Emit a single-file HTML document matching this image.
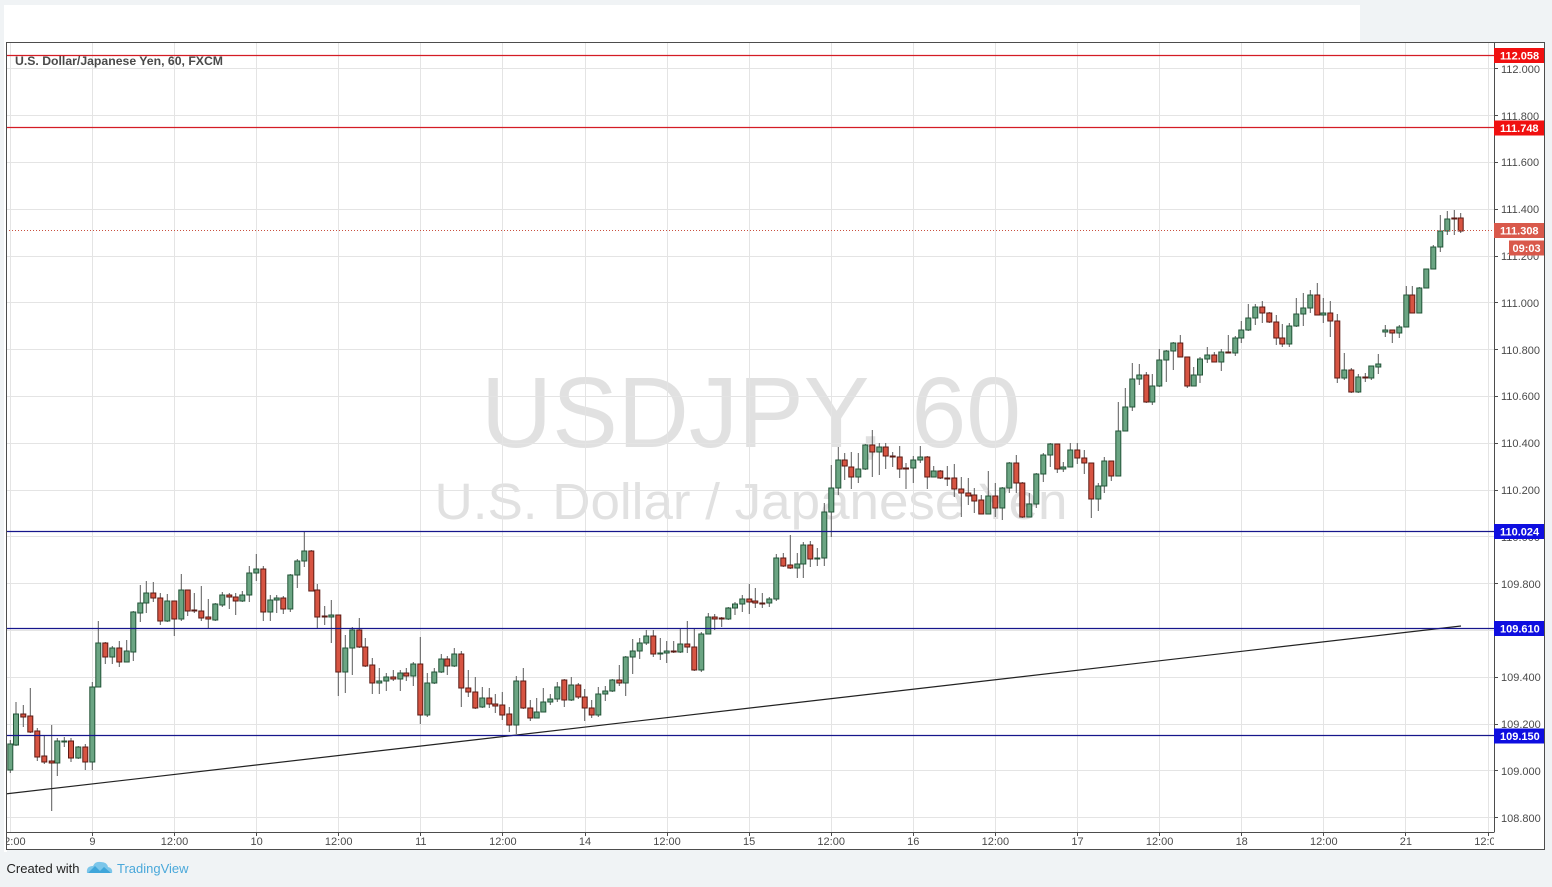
<!DOCTYPE html>
<html><head><meta charset="utf-8"><style>
html,body{margin:0;padding:0;background:#f0f3f5;}
svg{display:block;font-family:"Liberation Sans",Arial,sans-serif;}
</style></head><body>
<svg width="1552" height="887" viewBox="0 0 1552 887" xmlns="http://www.w3.org/2000/svg">
<defs>
<clipPath id="plot"><rect x="7" y="43" width="1487" height="789"/></clipPath>
<clipPath id="taxis"><rect x="7" y="833" width="1487" height="17"/></clipPath>
</defs>
<rect x="0" y="0" width="1552" height="887" fill="#f0f3f5"/>
<rect x="4" y="5" width="1356" height="37" fill="#ffffff"/>
<rect x="4" y="42" width="3" height="810" fill="#ffffff"/>
<rect x="6.5" y="42.5" width="1538" height="807" fill="#ffffff" stroke="#4d4d4d" stroke-width="1"/>

<g clip-path="url(#plot)">
<text x="751" y="447" font-size="100" fill="#e1e1e1" text-anchor="middle" textLength="540" lengthAdjust="spacingAndGlyphs">USDJPY, 60</text>
<text x="751" y="519" font-size="51" fill="#e1e1e1" text-anchor="middle" textLength="633" lengthAdjust="spacingAndGlyphs">U.S. Dollar / Japanese Yen</text>
<g stroke="#e4e4e4" stroke-width="1">
<path d="M7 68.5H1494M7 115.5H1494M7 162.5H1494M7 209.5H1494M7 256.5H1494M7 302.5H1494M7 349.5H1494M7 396.5H1494M7 443.5H1494M7 490.5H1494M7 536.5H1494M7 583.5H1494M7 630.5H1494M7 677.5H1494M7 724.5H1494M7 770.5H1494M7 817.5H1494"/>
<path d="M10.5 43V832M92.5 43V832M174.5 43V832M256.5 43V832M338.5 43V832M420.5 43V832M502.5 43V832M585.5 43V832M667.5 43V832M749.5 43V832M831.5 43V832M913.5 43V832M995.5 43V832M1077.5 43V832M1159.5 43V832M1241.5 43V832M1323.5 43V832M1405.5 43V832M1488.5 43V832"/>
</g>
<text x="15" y="65" font-size="12" font-weight="bold" fill="#4a4a4a" textLength="208" lengthAdjust="spacingAndGlyphs">U.S. Dollar/Japanese Yen, 60, FXCM</text>

<path fill="none" stroke="#5a5a5a" stroke-width="1" d="M10.3 740V773M16 702V746M23.3 705V727M30.3 688V733M37.3 728V761M44.3 736V764M51.7 725V811M57.3 738V776M64.3 737V747M71 738V762M78.3 746V759M85.3 744V770M92.3 682V770M98.3 621V687M105.3 642V664M112.3 646V664M119.3 641V667M126.7 640V662M133.3 611V661M140.3 585V622M146.3 581V613M153.3 582V602M160.3 593V625M167.3 594V622M174.3 601V636M181.3 574V621M187.7 590V616M194.3 593V613M201.3 586V621M208.3 599V629M215.3 603V621M222.3 592V607M229.3 593V609M235.7 593V615M242.3 591V602M249.3 566V602M256.3 554V581M263.3 566V621M270.3 595V621M276.7 595V613M283.3 596V614M290.3 574V612M297.3 559V588M304.3 532V567M311.3 550V591M317.3 584V628M324.7 606V625M331.3 600V643M338.3 615V696M345.3 635V693M352.3 627V675M359.3 618V648M365.3 638V667M372.3 658V694M379.3 668V694M386.3 673V691M393.3 670V681M400.3 670V691M406.3 668V681M413.3 662V686M420.3 637V724M427.3 673V717M434.3 668V684M441.3 654V673M447.3 656V675M454.3 648V667M461.3 651V707M468.3 670V697M475.3 677V709M482.3 687V708M489.3 688V708M495.3 694V713M502.3 692V720M509.3 707V732M516.3 676V734M523.3 668V709M530.3 700V721M536.7 698V718M543.3 688V712M550.3 694V705M557.3 682V702M564.3 679V707M571.3 677V701M578.3 683V699M584.7 689V721M591.7 700V718M598.3 687V717M605.3 686V701M612.3 679V692M619.3 665V686M625.7 656V696M632.7 639V674M639.7 638V659M646.3 630V645M653.3 630V657M660.3 638V660M666.7 641V663M673.7 641V653M680.3 628V653M687.3 621V653M694.3 628V671M701.3 632V672M708.3 613V634M714.7 614V630M721.7 617V627M728.3 607V620M735 602V615M742.3 595V612M749.3 584V614M755.3 588V608M762.3 593V608M769.3 597V607M776.3 554V601M783.3 553V567M790.3 535V569M797.3 553V578M803.3 542V578M810.3 541V567M817.3 548V566M824.3 503V566M831.3 465V537M838.3 447V495M844.7 453V480M851.3 452V489M858.3 453V483M865.3 444V470M872.3 430V477M879.3 443V475M885.7 443V469M892.7 452V467M899.7 446V478M906 463V489M913.3 456V483M920.3 446V463M927.3 456V489M933.7 466V477M940.3 470V479M947.3 466V486M954.3 464V497M961.3 477V517M968.3 478V505M974.3 488V513M981.3 495V514M988.3 471V514M995.3 483V517M1002.3 487V520M1009.3 462V493M1016.3 455V493M1022.3 482V518M1029.3 493V517M1036.3 473V508M1043.3 453V482M1050.3 443V467M1057.3 444V473M1063.3 462V472M1070.3 443V467M1077.3 443V464M1084.3 450V474M1091.3 463V518M1098.3 483V511M1104.3 457V493M1111.3 461V481M1118.3 402V476M1125.3 388V431M1132.3 363V411M1139.3 364V385M1146.3 372V403M1152.3 374V405M1159.3 349V387M1166.3 350V382M1173.3 342V370M1180.3 335V357M1187.3 357V388M1193.7 367V386M1200 357V383M1207.3 347V363M1214.3 352V362M1221.3 349V371M1228.3 335V353M1235.3 336V356M1241.3 321V343M1248.3 304V331M1255.3 304V325M1262.3 301V323M1269.3 312V323M1276.3 315V345M1282.3 324V347M1289.3 323V347M1296.3 298V327M1303.3 293V326M1310.3 290V313M1317.3 283V315M1323.3 298V323M1330.3 301V337M1337.3 314V383M1344.3 353V380M1351.3 368V393M1358.3 374V393M1365.3 373V382M1371.3 366V380M1378.3 354V374M1385.3 325V337M1392.3 330V343M1399.3 325V338M1406.3 286V327M1412.3 286V313M1419.3 287V313M1426.3 269V288M1433.3 245V269M1440.3 215V252M1447.3 211V235M1454.3 210V235M1460.7 213V233"/>

<path fill="#6ba583" stroke="#225437" stroke-width="1" d="M7.8 744h5v26h-5zM13.5 714h5v31h-5zM54.8 741h5v22h-5zM61.8 741h5v1h-5zM75.8 747h5v11h-5zM89.8 687h5v75h-5zM95.8 643h5v44h-5zM109.8 648h5v9h-5zM124.2 651h5v11h-5zM130.8 612h5v40h-5zM137.8 603h5v10h-5zM143.8 593h5v10h-5zM164.8 601h5v20h-5zM178.8 590h5v29h-5zM212.8 604h5v16h-5zM219.8 595h5v10h-5zM239.8 595h5v6h-5zM246.8 573h5v22h-5zM253.8 569h5v4h-5zM267.8 600h5v12h-5zM274.2 598h5v2h-5zM287.8 575h5v34h-5zM294.8 561h5v14h-5zM301.8 551h5v10h-5zM328.8 615h5v2h-5zM342.8 648h5v24h-5zM349.8 630h5v18h-5zM376.8 681h5v2h-5zM383.8 677h5v4h-5zM397.8 673h5v6h-5zM410.8 664h5v12h-5zM424.8 683h5v32h-5zM431.8 672h5v11h-5zM438.8 659h5v13h-5zM451.8 654h5v12h-5zM479.8 698h5v9h-5zM513.8 681h5v44h-5zM534.2 712h5v6h-5zM540.8 702h5v10h-5zM547.8 699h5v3h-5zM554.8 687h5v12h-5zM568.8 685h5v15h-5zM595.8 694h5v21h-5zM602.8 691h5v3h-5zM609.8 680h5v11h-5zM623.2 657h5v26h-5zM630.2 651h5v6h-5zM637.2 643h5v8h-5zM643.8 636h5v7h-5zM657.8 653h5v1h-5zM664.2 651h5v2h-5zM677.8 644h5v8h-5zM698.8 634h5v36h-5zM705.8 617h5v17h-5zM725.8 608h5v11h-5zM732.5 604h5v4h-5zM739.8 599h5v5h-5zM766.8 599h5v4h-5zM773.8 558h5v41h-5zM794.8 564h5v4h-5zM800.8 545h5v19h-5zM814.8 558h5v1h-5zM821.8 512h5v46h-5zM828.8 488h5v24h-5zM835.8 460h5v28h-5zM855.8 469h5v8h-5zM862.8 445h5v24h-5zM876.8 447h5v5h-5zM910.8 460h5v8h-5zM917.8 457h5v3h-5zM931.2 471h5v6h-5zM985.8 496h5v18h-5zM999.8 488h5v20h-5zM1006.8 463h5v25h-5zM1026.8 504h5v13h-5zM1033.8 474h5v30h-5zM1040.8 455h5v19h-5zM1047.8 444h5v11h-5zM1060.8 467h5v2h-5zM1067.8 450h5v17h-5zM1095.8 486h5v13h-5zM1101.8 461h5v25h-5zM1115.8 431h5v45h-5zM1122.8 407h5v24h-5zM1129.8 379h5v28h-5zM1136.8 375h5v4h-5zM1149.8 386h5v16h-5zM1156.8 360h5v26h-5zM1163.8 351h5v9h-5zM1170.8 343h5v8h-5zM1191.2 375h5v11h-5zM1197.5 359h5v16h-5zM1204.8 355h5v4h-5zM1218.8 352h5v10h-5zM1232.8 338h5v15h-5zM1238.8 330h5v8h-5zM1245.8 318h5v12h-5zM1252.8 307h5v11h-5zM1286.8 326h5v18h-5zM1293.8 314h5v12h-5zM1300.8 308h5v6h-5zM1307.8 295h5v13h-5zM1320.8 313h5v2h-5zM1341.8 370h5v8h-5zM1355.8 377h5v15h-5zM1368.8 366h5v12h-5zM1375.8 364h5v3h-5zM1382.8 330h5v2h-5zM1396.8 327h5v6h-5zM1403.8 295h5v32h-5zM1416.8 288h5v25h-5zM1423.8 269h5v19h-5zM1430.8 247h5v22h-5zM1437.8 231h5v16h-5zM1444.8 219h5v12h-5z"/>

<path fill="#d75442" stroke="#5b1a13" stroke-width="1" d="M20.8 714h5v3h-5zM27.8 716h5v16h-5zM34.8 731h5v26h-5zM41.8 756h5v6h-5zM49.2 761h5v2h-5zM68.5 741h5v17h-5zM82.8 747h5v15h-5zM102.8 643h5v14h-5zM116.8 648h5v14h-5zM150.8 593h5v5h-5zM157.8 598h5v23h-5zM171.8 601h5v18h-5zM185.2 590h5v21h-5zM191.8 610h5v1h-5zM198.8 611h5v7h-5zM205.8 617h5v2h-5zM226.8 595h5v2h-5zM233.2 597h5v4h-5zM260.8 569h5v43h-5zM280.8 598h5v11h-5zM308.8 551h5v40h-5zM314.8 590h5v27h-5zM322.2 616h5v1h-5zM335.8 615h5v57h-5zM356.8 630h5v17h-5zM362.8 647h5v19h-5zM369.8 665h5v18h-5zM390.8 677h5v2h-5zM403.8 673h5v3h-5zM417.8 664h5v51h-5zM444.8 659h5v7h-5zM458.8 654h5v34h-5zM465.8 688h5v4h-5zM472.8 692h5v16h-5zM486.8 698h5v6h-5zM492.8 704h5v2h-5zM499.8 705h5v10h-5zM506.8 714h5v11h-5zM520.8 681h5v27h-5zM527.8 708h5v10h-5zM561.8 680h5v20h-5zM575.8 685h5v12h-5zM582.2 697h5v11h-5zM589.2 708h5v7h-5zM616.8 680h5v3h-5zM650.8 636h5v18h-5zM671.2 651h5v1h-5zM684.8 644h5v3h-5zM691.8 647h5v23h-5zM712.2 617h5v2h-5zM719.2 618h5v1h-5zM746.8 599h5v3h-5zM752.8 601h5v2h-5zM759.8 603h5v1h-5zM780.8 558h5v8h-5zM787.8 565h5v3h-5zM807.8 545h5v14h-5zM842.2 460h5v6h-5zM848.8 467h5v10h-5zM869.8 445h5v7h-5zM883.2 447h5v9h-5zM890.2 456h5v1h-5zM897.2 457h5v12h-5zM903.5 468h5v1h-5zM924.8 457h5v20h-5zM937.8 471h5v7h-5zM944.8 478h5v1h-5zM951.8 478h5v11h-5zM958.8 489h5v4h-5zM965.8 493h5v3h-5zM971.8 495h5v6h-5zM978.8 500h5v14h-5zM992.8 496h5v12h-5zM1013.8 463h5v20h-5zM1019.8 483h5v34h-5zM1054.8 444h5v25h-5zM1074.8 450h5v8h-5zM1081.8 458h5v5h-5zM1088.8 463h5v36h-5zM1108.8 461h5v15h-5zM1143.8 375h5v27h-5zM1177.8 343h5v14h-5zM1184.8 357h5v29h-5zM1211.8 355h5v7h-5zM1225.8 352h5v1h-5zM1259.8 307h5v6h-5zM1266.8 313h5v9h-5zM1273.8 322h5v16h-5zM1279.8 338h5v6h-5zM1314.8 295h5v20h-5zM1327.8 313h5v8h-5zM1334.8 321h5v57h-5zM1348.8 370h5v22h-5zM1362.8 377h5v1h-5zM1389.8 330h5v3h-5zM1409.8 295h5v18h-5zM1451.8 218h5v1h-5zM1458.2 218h5v13h-5z"/>

<line x1="5" y1="794" x2="1461" y2="626" stroke="#222222" stroke-width="1.2"/>
<line x1="6" y1="55.5" x2="1494" y2="55.5" stroke="#d41c24" stroke-width="1.2"/>
<line x1="6" y1="127.5" x2="1494" y2="127.5" stroke="#d41c24" stroke-width="1.2"/>
<line x1="6" y1="230.5" x2="1494" y2="230.5" stroke="#c9503f" stroke-width="1" stroke-dasharray="1,2"/>
<line x1="6" y1="531.5" x2="1494" y2="531.5" stroke="#16168c" stroke-width="1.2"/>
<line x1="6" y1="628.5" x2="1494" y2="628.5" stroke="#16168c" stroke-width="1.2"/>
<line x1="6" y1="735.5" x2="1494" y2="735.5" stroke="#16168c" stroke-width="1.2"/>
</g>

<line x1="1494.5" y1="43" x2="1494.5" y2="832" stroke="#4d4d4d" stroke-width="1"/>
<line x1="7" y1="832.5" x2="1494.5" y2="832.5" stroke="#4d4d4d" stroke-width="1"/>

<path stroke="#4d4d4d" stroke-width="1" d="M1494 68.5h4M1494 115.5h4M1494 162.5h4M1494 209.5h4M1494 256.5h4M1494 302.5h4M1494 349.5h4M1494 396.5h4M1494 443.5h4M1494 490.5h4M1494 536.5h4M1494 583.5h4M1494 630.5h4M1494 677.5h4M1494 724.5h4M1494 770.5h4M1494 817.5h4"/>
<g font-size="11" fill="#4a4a4a">
<text x="1501" y="73">112.000</text>
<text x="1501" y="120">111.800</text>
<text x="1501" y="166">111.600</text>
<text x="1501" y="213">111.400</text>
<text x="1501" y="260">111.200</text>
<text x="1501" y="307">111.000</text>
<text x="1501" y="354">110.800</text>
<text x="1501" y="400">110.600</text>
<text x="1501" y="447">110.400</text>
<text x="1501" y="494">110.200</text>
<text x="1501" y="541">110.000</text>
<text x="1501" y="588">109.800</text>
<text x="1501" y="634">109.600</text>
<text x="1501" y="681">109.400</text>
<text x="1501" y="728">109.200</text>
<text x="1501" y="775">109.000</text>
<text x="1501" y="822">108.800</text>
</g>

<g font-size="11" font-weight="bold" fill="#ffffff">
<rect x="1494" y="48" width="50" height="15" fill="#f01010"/>
<text x="1500" y="59.5">112.058</text>
<rect x="1494" y="120.5" width="50" height="15" fill="#f01010"/>
<text x="1500" y="132">111.748</text>
<rect x="1494" y="223" width="50" height="15" fill="#d9594b"/>
<text x="1500" y="234.5">111.308</text>
<rect x="1509" y="240.5" width="35" height="15" fill="#d9594b"/>
<text x="1512.5" y="252">09:03</text>
<rect x="1494" y="524" width="50" height="15" fill="#0e0ee0"/>
<text x="1500" y="535.5">110.024</text>
<rect x="1494" y="621" width="50" height="15" fill="#0e0ee0"/>
<text x="1500" y="632.5">109.610</text>
<rect x="1494" y="728.5" width="50" height="15" fill="#0e0ee0"/>
<text x="1500" y="740">109.150</text>
</g>

<path stroke="#4d4d4d" stroke-width="1" d="M92.5 832v4M174.5 832v4M256.5 832v4M338.5 832v4M420.5 832v4M502.5 832v4M585.5 832v4M667.5 832v4M749.5 832v4M831.5 832v4M913.5 832v4M995.5 832v4M1077.5 832v4M1159.5 832v4M1241.5 832v4M1323.5 832v4M1405.5 832v4M1488.5 832v4"/>
<g clip-path="url(#taxis)" font-size="11" fill="#4a4a4a" text-anchor="middle">
<text x="11.8" y="845">12:00</text>
<text x="92.4" y="845">9</text>
<text x="174.5" y="845">12:00</text>
<text x="256.6" y="845">10</text>
<text x="338.7" y="845">12:00</text>
<text x="420.8" y="845">11</text>
<text x="502.9" y="845">12:00</text>
<text x="585" y="845">14</text>
<text x="667" y="845">12:00</text>
<text x="749.1" y="845">15</text>
<text x="831.2" y="845">12:00</text>
<text x="913.3" y="845">16</text>
<text x="995.4" y="845">12:00</text>
<text x="1077.5" y="845">17</text>
<text x="1159.6" y="845">12:00</text>
<text x="1241.7" y="845">18</text>
<text x="1323.8" y="845">12:00</text>
<text x="1405.9" y="845">21</text>
<text x="1488" y="845">12:00</text>
</g>

<text x="6.5" y="873" font-size="13" fill="#222222">Created with</text>
<path d="M87 873 Q86 866 93 866 Q95 861 101 862 Q107 862 108 867 Q113 868 112 873 Z" fill="#7cc6ea"/>
<path d="M88 873 L95 866 L100 871 L104 867 L111 873 Z" fill="#3fa6da"/>
<text x="117" y="873" font-size="13" fill="#4aa8da">TradingView</text>
</svg>
</body></html>
